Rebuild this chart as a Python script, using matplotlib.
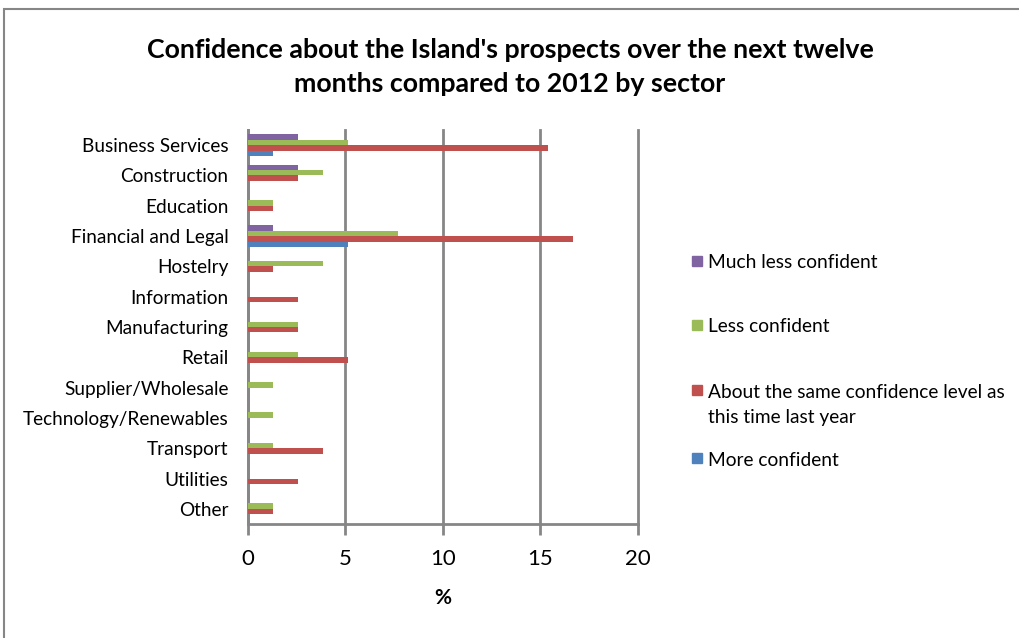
import matplotlib
matplotlib.use("Agg")
import matplotlib.pyplot as plt
from matplotlib.patches import Rectangle
import numpy as np

plt.rcParams['font.family'] = ['Lato', 'DejaVu Sans']

categories = ["Business Services", "Construction", "Education", "Financial and Legal",
              "Hostelry", "Information", "Manufacturing", "Retail", "Supplier/Wholesale",
              "Technology/Renewables", "Transport", "Utilities", "Other"]
series_names = ["More confident",
                "About the same confidence level as\nthis time last year",
                "Less confident", "Much less confident"]
more_confident = [1.28, 0, 0, 5.13, 0, 0, 0, 0, 0, 0, 0, 0, 0]
about_same = [15.38, 2.56, 1.28, 16.67, 1.28, 2.56, 2.56, 5.13, 0, 0, 3.85, 2.56, 1.28]
less_confident = [5.13, 3.85, 1.28, 7.69, 3.85, 0, 2.56, 2.56, 1.28, 1.28, 1.28, 0, 1.28]
much_less = [2.56, 2.56, 0, 1.28, 0, 0, 0, 0, 0, 0, 0, 0, 0]
colors = ["#4F81BD", "#C0504D", "#9BBB59", "#8064A2"]
xticks = [0, 5, 10, 15, 20]

W, H = 1020, 638
fig = plt.figure(figsize=(W / 100, H / 100), dpi=100)
ax = fig.add_axes([248 / W, 1 - 524 / H, (638 - 248) / W, (524 - 130) / H])

n = len(categories)
y = np.arange(n)[::-1]
bh = 0.18
data = [more_confident, about_same, less_confident, much_less]
for i, (vals, c) in enumerate(zip(data, colors)):
    ax.barh(y + (i - 1.5) * bh, vals, height=bh, color=c, zorder=3)

ax.set_xlim(0, 20)
ax.set_ylim(-0.5, n - 0.5)
ax.set_yticks(y)
ax.set_yticklabels(categories, fontsize=13.7, color="#000000")
ax.set_xticks(xticks)
ax.set_xticklabels([str(t) for t in xticks], fontsize=16)
ax.tick_params(axis='y', length=0, pad=14)
ax.tick_params(axis='x', length=8, width=2, color="#868686", pad=10, direction='out')
ax.grid(axis='x', color="#868686", linewidth=2, zorder=0)
for gl in ax.get_xgridlines():
    gl.set_clip_on(False)
for s in ["top", "right"]:
    ax.spines[s].set_visible(False)
for s in ["left", "bottom"]:
    ax.spines[s].set_color("#868686")
    ax.spines[s].set_linewidth(2)
ax.set_xlabel("%", fontsize=15, fontweight='bold', labelpad=14)

fig.text(0.5, 1 - 67 / H, "Confidence about the Island's prospects over the next twelve\nmonths compared to 2012 by sector",
         ha='center', va='center', fontsize=19.3, fontweight='bold', linespacing=1.45)

# legend (drawn manually to match spacing)
leg_y = [263, 327, 392, 460]
leg_order = [3, 2, 1, 0]
for yy, idx in zip(leg_y, leg_order):
    fig.patches.append(Rectangle((692 / W, 1 - (yy + 3) / H), 10 / W, 10 / H,
                                 transform=fig.transFigure, color=colors[idx], figure=fig))
    for k, line in enumerate(series_names[idx].split("\n")):
        fig.text(708 / W, 1 - (yy + 26 * k) / H, line, ha='left', va='center', fontsize=13.8)

# outer border
fig.patches.append(Rectangle((4.5 / W, -0.1), 1.2, 1 - 9.5 / H + 0.1, transform=fig.transFigure,
                             fill=False, edgecolor="#868686", linewidth=1.5, figure=fig))

fig.savefig("out.png", dpi=100)
